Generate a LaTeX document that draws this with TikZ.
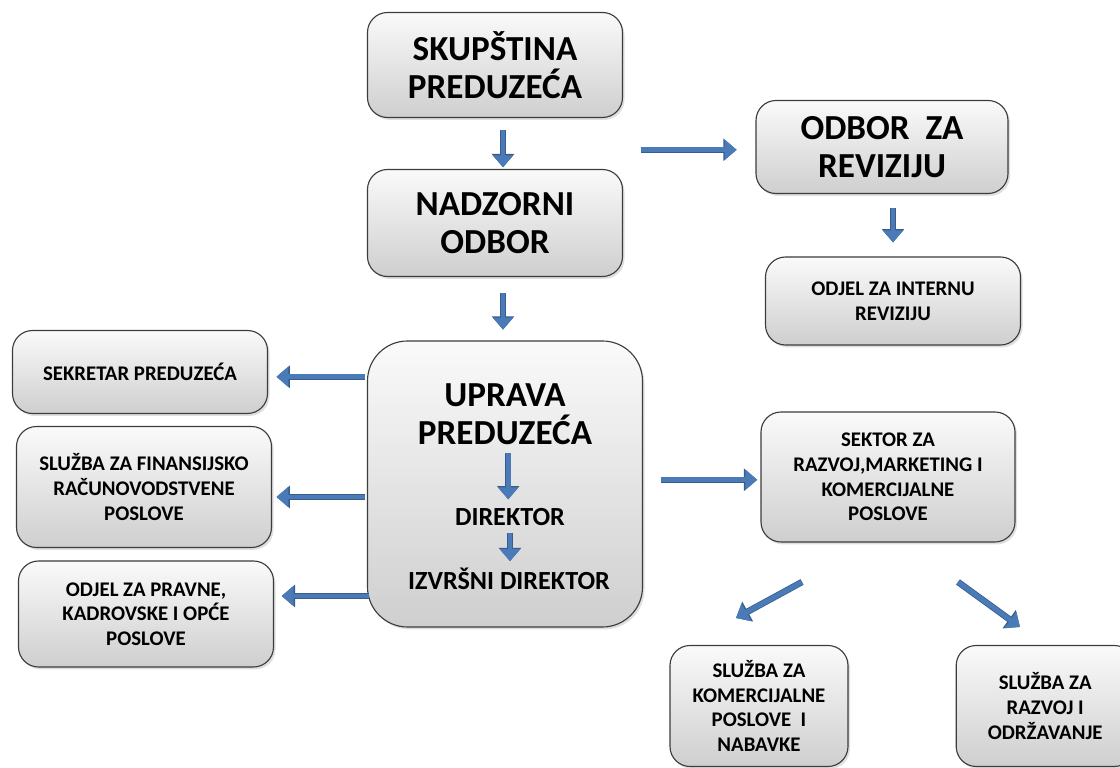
\documentclass[tikz,border=0pt]{standalone}
\usepackage{fontspec}
\setmainfont{Carlito}
\usepackage{xcolor}
\usetikzlibrary{arrows.meta,shadows,calc}

\definecolor{arrowblue}{RGB}{74,123,184}
\definecolor{arrowdark}{RGB}{56,93,138}
\definecolor{boxline}{RGB}{60,60,60}

\begin{document}
\begin{tikzpicture}[
    font=\bfseries,
    orgbox/.style={draw=boxline, line width=0.8pt, rounded corners=0.5cm,
        top color=gray!4, bottom color=gray!38, align=center, inner sep=0pt,
        drop shadow={opacity=0.25, shadow xshift=0.05cm, shadow yshift=-0.06cm}},
    bigtext/.style={font=\bfseries\fontsize{25}{27}\selectfont},
    smalltext/.style={font=\bfseries\fontsize{14.8}{17.5}\selectfont},
    blockarrow/.style={draw=arrowblue, line width=3.5pt,
        -{Triangle[length=8.5pt, width=14pt]},
        preaction={draw=arrowdark, line width=4.6pt, -{Triangle[length=9.5pt, width=15.5pt]}}}]
    \clip (0,0) rectangle (28,19.2);
    \node[orgbox, bigtext, minimum width=6.375cm, minimum height=2.625cm] (skup) at (12.375,17.575) {SKUPŠTINA\\PREDUZEĆA};
    \node[orgbox, bigtext, minimum width=6.375cm, minimum height=2.675cm] (nadz) at (12.375,13.625) {NADZORNI\\ODBOR};
    \node[orgbox, bigtext, minimum width=6.3cm, minimum height=2.325cm] (odbor) at (22.05,15.525) {ODBOR\ \ ZA\\REVIZIJU};
    \node[orgbox, smalltext, minimum width=6.375cm, minimum height=2.2cm] (interna) at (22.325,11.675) {ODJEL ZA INTERNU\\REVIZIJU};
    \node[orgbox, smalltext, minimum width=6.375cm, minimum height=2.075cm] (sekr) at (3.5,9.9) {SEKRETAR PREDUZEĆA};
    \node[orgbox, smalltext, minimum width=6.375cm, minimum height=3.025cm] (fin) at (3.6,7.025) {SLUŽBA ZA FINANSIJSKO\\RAČUNOVODSTVENE\\POSLOVE};
    \node[orgbox, smalltext, minimum width=6.375cm, minimum height=2.65cm] (pravne) at (3.65,3.85) {ODJEL ZA PRAVNE,\\KADROVSKE I OPĆE\\POSLOVE};
    \node[orgbox, rounded corners=1cm, minimum width=6.875cm, minimum height=7.15cm] (uprava) at (12.625,7.1) {};
    \node[bigtext, align=center] (upravat) at (12.625,8.85) {UPRAVA\\PREDUZEĆA};
    \node[font=\bfseries\fontsize{18.6}{21}\selectfont] (dir) at (12.75,6.275) {DIREKTOR};
    \node[font=\bfseries\fontsize{18.6}{21}\selectfont] (izv) at (12.725,4.725) {IZVRŠNI DIREKTOR};
    \node[orgbox, smalltext, minimum width=6.35cm, minimum height=3.25cm] (sektor) at (22.2,7.275) {SEKTOR ZA\\RAZVOJ,MARKETING I\\KOMERCIJALNE\\POSLOVE};
    \node[orgbox, smalltext, minimum width=4.45cm, minimum height=3.025cm] (kom) at (18.975,1.55) {SLUŽBA ZA\\KOMERCIJALNE\\POSLOVE\ \ I\\NABAVKE};
    \node[orgbox, smalltext, minimum width=4.45cm, minimum height=3.025cm] (razvoj) at (26.13,1.55) {SLUŽBA ZA\\RAZVOJ I\\ODRŽAVANJE};
    \coordinate (komend) at (18.4,3.75);
    \coordinate (komstart) at (20.05,4.65);
    \coordinate (razend) at (25.5,3.525);
    \coordinate (razstart) at (23.95,4.65);
    \draw[blockarrow, shorten <=0.31cm, shorten >=0.04cm] ([xshift=0.2cm]skup.south) -- ([xshift=0.2cm]skup.south |- nadz.north);
    \draw[blockarrow, shorten <=0.44cm, shorten >=0.47cm] ([yshift=-0.07cm]skup.east |- odbor.west) -- ([yshift=-0.07cm]odbor.west);
    \draw[blockarrow, shorten <=0.34cm, shorten >=0.35cm] (interna.north |- odbor.south) -- (interna.north);
    \draw[blockarrow, shorten <=0.41cm, shorten >=0.27cm] ([xshift=0.2cm]nadz.south) -- ([xshift=0.2cm]nadz.south |- uprava.north);
    \draw[blockarrow, shorten <=0.06cm, shorten >=0.21cm] ([yshift=-0.12cm]uprava.west |- sekr.east) -- ([yshift=-0.12cm]sekr.east);
    \draw[blockarrow, shorten <=0.06cm, shorten >=0.11cm] ([yshift=-0.25cm]uprava.west |- fin.east) -- ([yshift=-0.25cm]fin.east);
    \draw[blockarrow, shorten <=-0.06cm, shorten >=0.19cm] ([yshift=0.45cm]uprava.west |- pravne.east) -- ([yshift=0.45cm]pravne.east);
    \draw[blockarrow, shorten <=0.44cm, shorten >=0.08cm] ([yshift=-0.07cm]uprava.east |- sektor.west) -- ([yshift=-0.07cm]sektor.west);
    \draw[blockarrow, shorten <=0.1cm, shorten >=0.1cm] ([xshift=0.08cm]upravat.south) -- ([xshift=0.08cm]upravat.south |- dir.north);
    \draw[blockarrow, shorten <=0.05cm, shorten >=0.05cm] (dir.south) -- (dir.south |- izv.north);
    \draw[blockarrow] (komstart) -- (komend);
    \draw[blockarrow] (razstart) -- (razend);
\end{tikzpicture}
\end{document}
